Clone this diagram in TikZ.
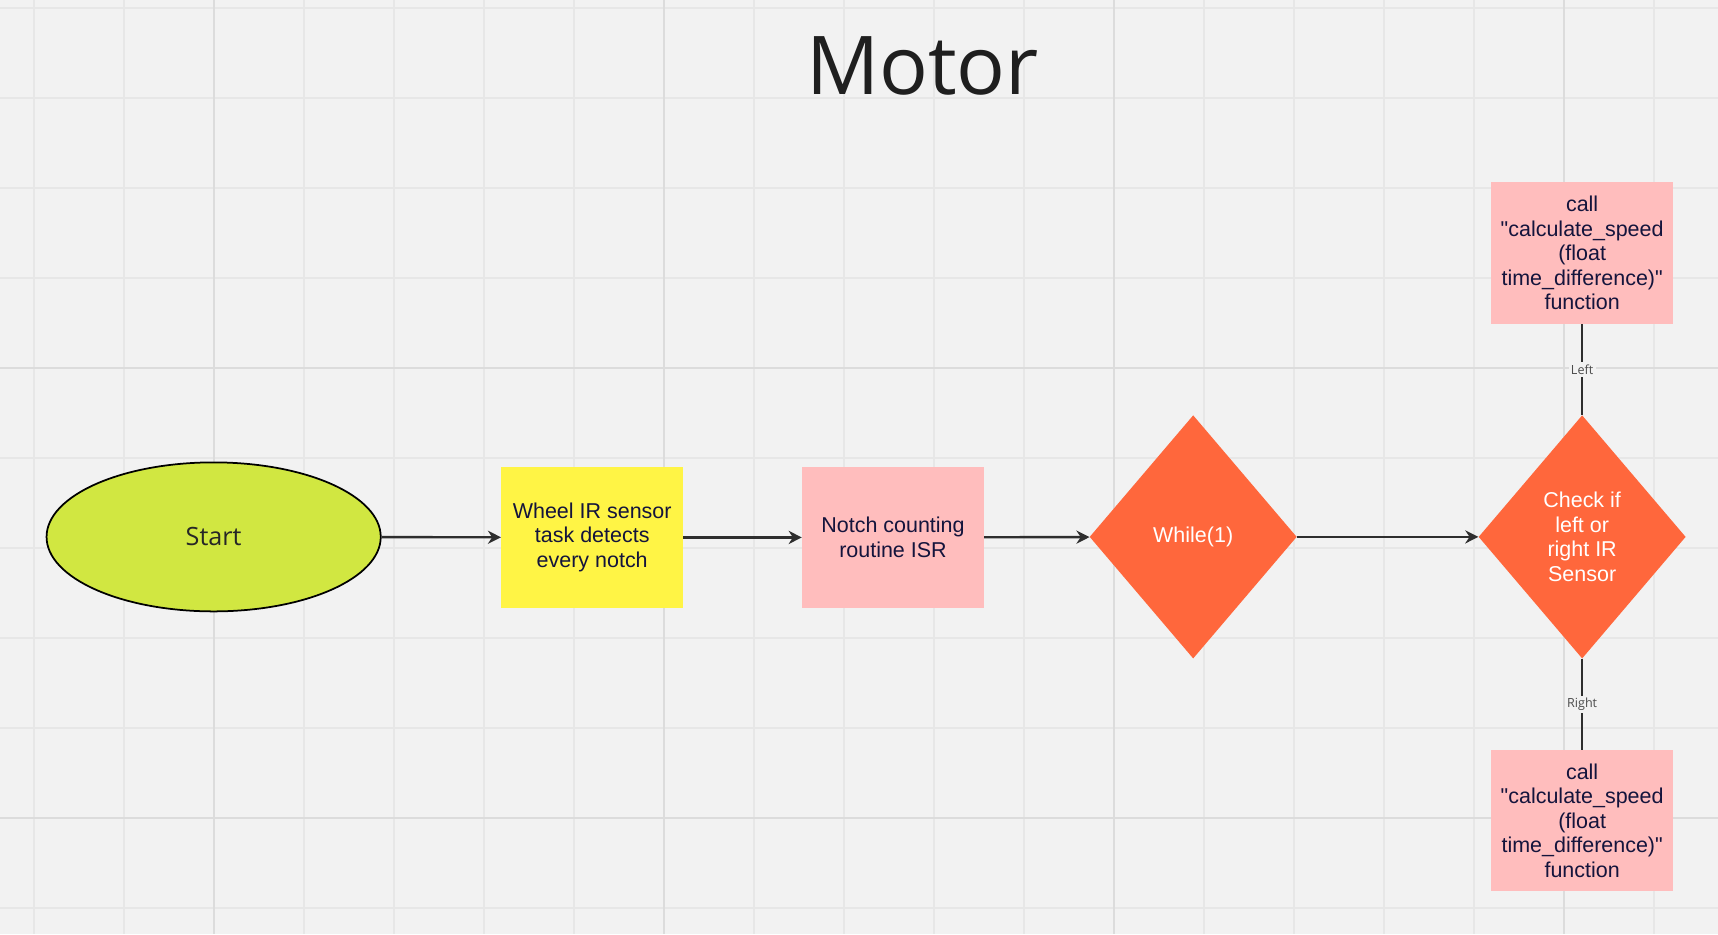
\documentclass[tikz,border=0pt]{standalone}
\usepackage{fontspec}
\setmainfont{Liberation Sans}[Ligatures=TeXOff]
\newfontfamily\opensans{Open Sans}
\usetikzlibrary{shapes.geometric, arrows.meta}

\definecolor{boardbg}{HTML}{F2F2F2}
\definecolor{gridminor}{HTML}{E7E7E7}
\definecolor{gridmajor}{HTML}{DCDCDC}
\definecolor{startgreen}{HTML}{D1E741}
\definecolor{stickyyellow}{HTML}{FFF445}
\definecolor{stickypink}{HTML}{FFBDBD}
\definecolor{decisionred}{HTML}{FF673C}
\definecolor{inkblue}{HTML}{14143C}
\definecolor{arrowgray}{HTML}{2E2E2E}

\tikzset{
  bodytext/.style={font=\fontsize{19.6}{22.3}\selectfont, align=center},
  terminal/.style={ellipse, draw=black, line width=1.6pt, fill=startgreen,
    minimum width=305pt, minimum height=136pt, inner sep=0pt,
    font=\opensans\fontsize{23}{26}\selectfont, text=black!85},
  sticky/.style={rectangle, bodytext, text=inkblue, inner sep=0pt,
    minimum width=166pt, minimum height=128pt},
  decision/.style={diamond, bodytext, fill=decisionred, text=white, inner sep=0pt,
    minimum width=189pt, minimum height=222pt},
  flow/.style={draw=arrowgray, line width=2.2pt, -{Stealth[length=12pt,width=12pt]}},
  branch/.style={draw=arrowgray, line width=2.2pt},
  branchlabel/.style={fill=boardbg, text=black!70, inner sep=2pt,
    font=\opensans\fontsize{11.5}{13}\selectfont},
}

\begin{document}
\begin{tikzpicture}[x=1pt, y=-1pt]
  % Board background and grid
  \useasboundingbox (0,0) rectangle (1568,852.46);
  \fill[boardbg] (0,0) rectangle (1568,852.46);
  \begin{scope}
    \clip (0,0) rectangle (1568,852.46);
    \foreach \i in {0,...,18} {
      \draw[gridminor, line width=1.5pt] (31.03+\i*82.14,0) -- (31.03+\i*82.14,852.46); % vertical lines
    }
    \foreach \j in {0,...,10} {
      \draw[gridminor, line width=1.5pt] (0,7.3+\j*82.14) -- (1568,7.3+\j*82.14); % horizontal lines
    }
    \foreach \i in {2,7,12,17} {
      \draw[gridmajor, line width=2pt] (31.03+\i*82.14,0) -- (31.03+\i*82.14,852.46); % major vertical
    }
    \foreach \j in {4,9} {
      \draw[gridmajor, line width=2pt] (0,7.3+\j*82.14) -- (1568,7.3+\j*82.14); % major horizontal
    }
  \end{scope}

  % Title
  \node[font=\opensans\fontsize{74}{80}\selectfont, text=black!88] (title) at (842,60) {Motor};

  % Main flow
  \node[terminal] (start) at (195,490) {Start};
  \node[sticky, fill=stickyyellow] (wheel) at (540.5,490.5) {Wheel IR sensor\\task detects\\every notch};
  \node[sticky, fill=stickypink] (isr) at (815,490.5) {Notch counting\\routine ISR};
  \node[decision] (loop) at (1089,490) {While(1)};
  \node[decision] (check) at (1444,490) {Check if\\left or\\right IR\\Sensor};

  % Speed calculation calls
  \node[sticky, fill=stickypink, minimum height=129pt] (callleft) at (1444,231)
    {call\\"calculate\_speed\\(float\\time\_difference)"\\function};
  \node[sticky, fill=stickypink, minimum height=129pt] (callright) at (1444,749)
    {call\\"calculate\_speed\\(float\\time\_difference)"\\function};

  % Connectors
  \draw[flow] (start) -- (wheel);
  \draw[flow] (wheel) -- (isr);
  \draw[flow] (isr) -- (loop);
  \draw[flow] (loop) -- (check);
  \draw[branch] (check) -- node[branchlabel] {Left} (callleft);
  \draw[branch] (check) -- node[branchlabel] {Right} (callright);
\end{tikzpicture}
\end{document}
